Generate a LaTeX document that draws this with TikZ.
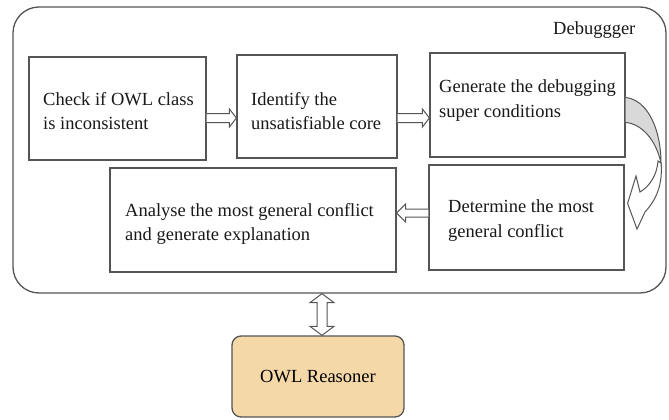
\documentclass[tikz,border=0pt]{standalone}
\usepackage{fontspec}
\setmainfont{Liberation Serif}
\usetikzlibrary{calc}
\definecolor{edge}{HTML}{555555}
\definecolor{owlfill}{HTML}{F4D8A8}
\definecolor{backgray}{HTML}{D9D9D9}
\newcommand\hollowRight[3]{%
  \draw[hollow] ($(#1.east |- #3)+(0,-4.5)$) -- ($(#2.west |- #3)+(-7,-4.5)$) -- ($(#2.west |- #3)+(-7,-9)$) -- (#2.west |- #3) -- ($(#2.west |- #3)+(-7,9)$) -- ($(#2.west |- #3)+(-7,4.5)$) -- ($(#1.east |- #3)+(0,4.5)$);}
\newcommand\hollowLeft[3]{%
  \draw[hollow] ($(#1.west |- #3)+(0,-4)$) -- ($(#2.east |- #3)+(9,-4)$) -- ($(#2.east |- #3)+(9,-9)$) -- (#2.east |- #3) -- ($(#2.east |- #3)+(9,9)$) -- ($(#2.east |- #3)+(9,4)$) -- ($(#1.west |- #3)+(0,4)$);}
\begin{document}
\begin{tikzpicture}[x=1pt,y=-1pt,
  box/.style={draw=edge, line width=1.2pt, fill=white, inner sep=0pt},
  txt/.style={align=left, inner sep=0pt, text=black!90, font=\fontsize{18.5}{24.5}\selectfont},
  hollow/.style={draw=edge, line width=1pt, fill=white, line join=miter}]
\useasboundingbox (0,0) rectangle (669,420);
% outer debugger container
\node[box, rounded corners=26pt, line width=1.3pt, minimum width=653pt, minimum height=286pt] (dbg) at (339.5,150) {};
\node[txt, anchor=base west] (dbgl) at (553,35) {Debuggger};
% process boxes
\node[box, minimum width=177pt, minimum height=103pt] (b1) at (117.5,108.5) {};
\node[box, minimum width=160pt, minimum height=103pt] (b2) at (317,106.5) {};
\node[box, minimum width=195pt, minimum height=104pt] (b3) at (527.5,105) {};
\node[box, minimum width=195pt, minimum height=105pt] (b4) at (526.5,217.5) {};
\node[box, minimum width=286pt, minimum height=104pt] (b5) at (253,220) {};
\node[txt, anchor=west] (t1) at (43,111) {Check if OWL class\\is inconsistent};
\node[txt, anchor=west] (t2) at (251,111) {Identify the\\unsatisfiable core};
\node[txt, anchor=west] (t3) at (439,100.5) {Generate the debugging\\super conditions};
\node[txt, anchor=west] (t4) at (448,220.5) {Determine the most\\general conflict};
\node[txt, anchor=west] (t5) at (125,224) {Analyse the most general conflict\\and generate explanation};
% reasoner
\node[draw=edge, line width=1.3pt, fill=owlfill, rounded corners=9pt, minimum width=172pt, minimum height=81pt, inner sep=0pt, font=\fontsize{18.5}{24.5}\selectfont] (owl) at (318,376.5) {OWL Reasoner};
% straight hollow arrows
\coordinate (ya) at (0,118);
\coordinate (yb) at (0,213);
\hollowRight{b1}{b2}{ya}
\hollowRight{b2}{b3}{ya}
\hollowLeft{b4}{b5}{yb}
% double-headed arrow between debugger and reasoner
\coordinate (xa) at (322,0);
\coordinate (T) at (dbg.south -| xa);
\coordinate (U) at (owl.north -| xa);
\draw[hollow] (T) -- ($(T)+(12,9)$) -- ($(T)+(5,9)$) -- ($(U)+(5,-9)$) -- ($(U)+(12,-9)$) -- (U) -- ($(U)+(-12,-9)$) -- ($(U)+(-5,-9)$) -- ($(T)+(-5,9)$) -- ($(T)+(-12,9)$) -- cycle;
% curved arrow from b3 to b4
\coordinate (ca) at ($(b3.north east)+(0,45)$);
\coordinate (cb) at ($(b3.north east)+(0,70)$);
\coordinate (ct) at ($(b4.north east)+(3,39)$);
\filldraw[fill=backgray, draw=edge, line width=1pt] (ca) .. controls (648,100) and (661,130) .. (661,163) .. controls (656,140) and (642,124) .. (cb);
\filldraw[fill=white, draw=edge, line width=1pt, line join=miter] (658,161) .. controls (657,175) and (650,186) .. (640,192) -- (636,176) -- (ct) -- (637,229) -- (645,212) .. controls (656,200) and (663,185) .. (661,163) -- cycle;
\end{tikzpicture}
\end{document}
